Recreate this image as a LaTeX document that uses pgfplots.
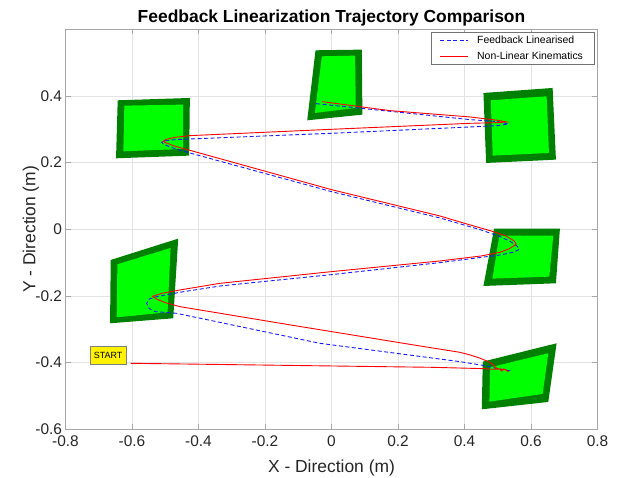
\documentclass[border=0pt]{standalone}
\usepackage{pgfplots}
\pgfplotsset{compat=1.18}
\usepackage{fontspec}
\setmainfont{Liberation Sans}

\definecolor{darkg}{rgb}{0,0.5,0}
\definecolor{brightg}{rgb}{0,1,0}
\definecolor{axgray}{rgb}{0.65,0.65,0.65}
\definecolor{gridgray}{rgb}{0.89,0.89,0.89}
\definecolor{txt}{rgb}{0.15,0.15,0.15}
\definecolor{legbox}{rgb}{0.45,0.45,0.45}
\definecolor{fbblue}{rgb}{0.1,0.1,1}

\begin{document}
\begin{tikzpicture}
\path[use as bounding box] (0,0) rectangle (634bp,478bp);
\begin{axis}[
  at={(65.5bp,48.7bp)}, anchor=south west,
  scale only axis, width=532bp, height=400bp,
  xmin=-0.8, xmax=0.8, ymin=-0.6, ymax=0.6,
  xtick={-0.8,-0.6,-0.4,-0.2,0,0.2,0.4,0.6,0.8},
  ytick={-0.6,-0.4,-0.2,0,0.2,0.4},
  no markers,
  grid=major,
  grid style={color=gridgray, line width=0.5bp},
  axis line style={color=axgray, line width=0.7bp},
  tick style={color=axgray, line width=0.6bp},
  major tick length=5bp,
  ticklabel style={font=\fontsize{15.5}{18}\selectfont, text=txt},
  xticklabel style={yshift=-3bp},
  /pgf/number format/.cd, fixed, precision=1, assume math mode=true, /pgfplots/.cd,
  title={Feedback Linearization Trajectory Comparison},
  every axis title/.style={at={(axis description cs:0.5,1)}, anchor=base, yshift=6.6bp,
    font=\bfseries\fontsize{17.5}{20}\selectfont, text=black},
  xlabel={X - Direction (m)},
  ylabel={Y - Direction (m)},
  every axis x label/.style={at={(axis description cs:0.5,-0.097)}, anchor=center,
    font=\fontsize{17.5}{20}\selectfont, text=txt},
  every axis y label/.style={at={(axis description cs:-0.065,0.5)}, rotate=90, anchor=center,
    font=\fontsize{17.5}{20}\selectfont, text=txt},
  legend style={at={(rel axis cs:1,1)}, anchor=north east, xshift=-3.2bp, yshift=-2.4bp,
    draw=legbox, line width=0.6bp, fill=white,
    font=\fontsize{10.5}{12}\selectfont, cells={anchor=west},
    inner xsep=9bp, inner ysep=2bp, row sep=2.5bp, column sep=6.4bp},
  legend cell align=left,
  legend image code/.code={\draw[#1] (0bp,0bp) -- (28bp,0bp);},
]
% robots
\addplot[fill=darkg, draw=none, forget plot] coordinates {(-0.643,0.387) (-0.426,0.394) (-0.428,0.221) (-0.648,0.213)};
\addplot[fill=brightg, draw=none, forget plot] coordinates {(-0.623,0.371) (-0.446,0.374) (-0.446,0.241) (-0.626,0.234)};
\addplot[fill=darkg, draw=none, forget plot] coordinates {(-0.664,-0.092) (-0.461,-0.028) (-0.476,-0.267) (-0.666,-0.282)};
\addplot[fill=brightg, draw=none, forget plot] coordinates {(-0.644,-0.105) (-0.484,-0.056) (-0.493,-0.249) (-0.646,-0.264)};
\addplot[fill=darkg, draw=none, forget plot] coordinates {(-0.048,0.537) (0.091,0.539) (0.093,0.344) (-0.073,0.327)};
\addplot[fill=brightg, draw=none, forget plot] coordinates {(-0.029,0.519) (0.071,0.521) (0.073,0.364) (-0.050,0.349)};
\addplot[fill=darkg, draw=none, forget plot] coordinates {(0.457,0.409) (0.665,0.424) (0.675,0.209) (0.465,0.199)};
\addplot[fill=brightg, draw=none, forget plot] coordinates {(0.479,0.387) (0.647,0.399) (0.654,0.229) (0.485,0.221)};
\addplot[fill=darkg, draw=none, forget plot] coordinates {(0.489,0.002) (0.687,0.002) (0.675,-0.162) (0.457,-0.170)};
\addplot[fill=brightg, draw=none, forget plot] coordinates {(0.505,-0.019) (0.667,-0.019) (0.655,-0.142) (0.484,-0.148)};
\addplot[fill=darkg, draw=none, forget plot] coordinates {(0.455,-0.397) (0.677,-0.342) (0.652,-0.518) (0.452,-0.540)};
\addplot[fill=brightg, draw=none, forget plot] coordinates {(0.477,-0.414) (0.652,-0.372) (0.635,-0.494) (0.475,-0.517)};

% feedback linearised
\addplot[color=fbblue, line width=0.9bp, dash pattern=on 4bp off 2.5bp] coordinates {
(0.537,-0.424) (0.515,-0.421) (0.490,-0.416) (0.467,-0.410) (0.386,-0.397)
(-0.035,-0.342) (-0.466,-0.252) (-0.530,-0.247) (-0.548,-0.238) (-0.556,-0.222)
(-0.548,-0.209) (-0.526,-0.202) (-0.456,-0.189) (-0.335,-0.170) (0.0,-0.136)
(0.326,-0.100) (0.507,-0.077) (0.545,-0.069) (0.562,-0.062) (0.565,-0.058)
(0.555,-0.048) (0.535,-0.035) (0.507,-0.022) (0.45,-0.002) (0.326,0.034)
(0.0,0.113) (-0.426,0.229) (-0.48,0.245) (-0.505,0.255) (-0.511,0.261)
(-0.500,0.266) (-0.470,0.269) (-0.426,0.271) (0.0,0.288) (0.417,0.307)
(0.50,0.311) (0.532,0.316) (0.50,0.323) (0.417,0.329) (0.176,0.354) (-0.047,0.377)
};
\addlegendentry{Feedback Linearised}

% non-linear kinematics
\addplot[color=red, line width=0.9bp] coordinates {
(-0.604,-0.402) (-0.3,-0.406) (0.0,-0.410) (0.3,-0.414) (0.457,-0.418)
(0.487,-0.420) (0.505,-0.419) (0.512,-0.425) (0.518,-0.419) (0.526,-0.423)
(0.532,-0.427) (0.522,-0.421) (0.505,-0.419) (0.496,-0.417) (0.490,-0.410)
(0.480,-0.402) (0.467,-0.395) (0.445,-0.386) (0.417,-0.377) (0.386,-0.369)
(0.266,-0.350) (-0.135,-0.285) (-0.456,-0.232) (-0.500,-0.220) (-0.525,-0.210)
(-0.538,-0.201) (-0.51,-0.192) (-0.456,-0.182) (-0.335,-0.162) (0.0,-0.127)
(0.326,-0.095) (0.45,-0.080) (0.507,-0.069) (0.535,-0.058) (0.552,-0.047)
(0.555,-0.043) (0.548,-0.034) (0.525,-0.020) (0.487,-0.007) (0.40,0.018)
(0.326,0.040) (0.0,0.119) (-0.426,0.237) (-0.47,0.249) (-0.497,0.259)
(-0.506,0.264) (-0.497,0.270) (-0.470,0.276) (-0.426,0.281) (0.0,0.300)
(0.417,0.318) (0.50,0.320) (0.527,0.322) (0.50,0.327) (0.417,0.337)
(0.176,0.356) (-0.028,0.383)
};
\addlegendentry{Non-Linear Kinematics\hspace{10bp}}

\node[fill=yellow, draw=gray, line width=0.6bp, font=\fontsize{9}{10}\selectfont, text=black,
  inner sep=0pt, minimum width=36bp, minimum height=18bp] at (axis cs:-0.672,-0.377) {START};
\end{axis}
\end{tikzpicture}
\end{document}
